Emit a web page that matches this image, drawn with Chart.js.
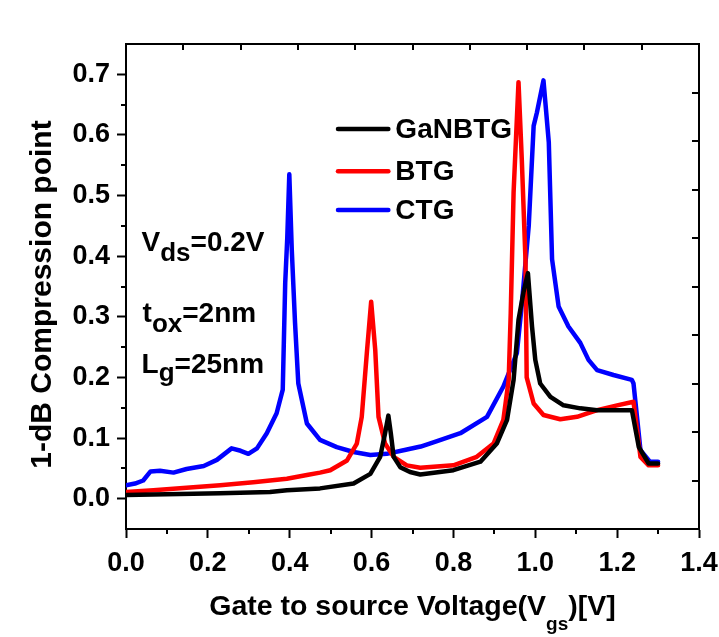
<!DOCTYPE html>
<html><head><meta charset="utf-8">
<script src="https://cdn.jsdelivr.net/npm/chart.js@4.4.1/dist/chart.umd.min.js"></script>
<style>html,body{margin:0;padding:0;background:#fff}#wrap{width:719px;height:637px;position:relative}</style>
</head><body><div id="wrap"><canvas id="c" width="719" height="637"></canvas></div>
<script>
const seriesNames = ['GaNBTG', 'BTG', 'CTG'];
const seriesColors = ['#000000', '#ff0000', '#0000ff'];

const ganX = [0.000, 0.230, 0.352, 0.393, 0.474, 0.556, 0.597, 0.621, 0.633, 0.641, 0.647, 0.654, 0.670, 0.694, 0.719, 0.800, 0.866, 0.906, 0.931, 0.947, 0.959, 0.971, 0.982, 0.992, 1.000, 1.012, 1.037, 1.069, 1.110, 1.151, 1.236, 1.253, 1.277, 1.300];
const ganY = [0.006, 0.009, 0.011, 0.014, 0.017, 0.025, 0.041, 0.069, 0.108, 0.137, 0.108, 0.069, 0.052, 0.044, 0.040, 0.047, 0.061, 0.091, 0.130, 0.196, 0.295, 0.340, 0.372, 0.284, 0.229, 0.190, 0.168, 0.154, 0.149, 0.146, 0.146, 0.085, 0.058, 0.058];

const btgX = [0.000, 0.067, 0.148, 0.230, 0.311, 0.393, 0.442, 0.474, 0.499, 0.540, 0.564, 0.576, 0.589, 0.599, 0.609, 0.617, 0.633, 0.654, 0.686, 0.719, 0.800, 0.857, 0.898, 0.922, 0.935, 0.940, 0.947, 0.959, 0.967, 0.976, 0.979, 0.996, 1.020, 1.061, 1.102, 1.151, 1.200, 1.240, 1.257, 1.277, 1.300];
const btgY = [0.011, 0.014, 0.018, 0.022, 0.027, 0.033, 0.039, 0.043, 0.047, 0.063, 0.091, 0.135, 0.245, 0.325, 0.245, 0.135, 0.091, 0.069, 0.055, 0.051, 0.055, 0.069, 0.091, 0.130, 0.196, 0.306, 0.505, 0.687, 0.560, 0.395, 0.200, 0.157, 0.138, 0.131, 0.135, 0.146, 0.154, 0.160, 0.069, 0.055, 0.055];

const ctgX = [0.000, 0.022, 0.042, 0.060, 0.083, 0.116, 0.148, 0.190, 0.222, 0.258, 0.280, 0.299, 0.320, 0.344, 0.368, 0.383, 0.389, 0.394, 0.399, 0.405, 0.413, 0.421, 0.442, 0.474, 0.515, 0.556, 0.597, 0.637, 0.678, 0.720, 0.760, 0.817, 0.882, 0.922, 0.955, 0.967, 0.984, 0.996, 1.004, 1.020, 1.033, 1.041, 1.057, 1.081, 1.110, 1.130, 1.151, 1.191, 1.236, 1.240, 1.257, 1.280, 1.300];
const ctgY = [0.022, 0.025, 0.030, 0.045, 0.046, 0.043, 0.049, 0.054, 0.064, 0.083, 0.079, 0.074, 0.083, 0.108, 0.141, 0.180, 0.356, 0.430, 0.535, 0.411, 0.290, 0.190, 0.124, 0.097, 0.085, 0.077, 0.072, 0.074, 0.080, 0.086, 0.095, 0.108, 0.135, 0.185, 0.240, 0.320, 0.450, 0.615, 0.637, 0.690, 0.588, 0.395, 0.317, 0.284, 0.257, 0.229, 0.212, 0.204, 0.196, 0.190, 0.080, 0.061, 0.061];

const xTicks = [0.0, 0.2, 0.4, 0.6, 0.8, 1.0, 1.2, 1.4];
const yTicks = [0.0, 0.1, 0.2, 0.3, 0.4, 0.5, 0.6, 0.7];
const xMinor = [0.1, 0.3, 0.5, 0.7, 0.9, 1.1, 1.3];
const yMinor = [0.05, 0.15, 0.25, 0.35, 0.45, 0.55, 0.65];

const yTitle = '1-dB Compression point';
const FONT = '"Liberation Sans", Arial, sans-serif';

function pts(xs, ys) { return xs.map((v, i) => ({x: v, y: ys[i]})); }

const allX = [ganX, btgX, ctgX];
const allY = [ganY, btgY, ctgY];

function drawSub(ctx, parts, x, y) {
  let cx = x;
  parts.forEach(p => {
    ctx.font = 'bold ' + p[1] + 'px ' + FONT;
    ctx.fillText(p[0], cx, y + p[2]);
    cx += ctx.measureText(p[0]).width;
  });
  return cx - x;
}
function measureSub(ctx, parts) {
  let w = 0;
  parts.forEach(p => { ctx.font = 'bold ' + p[1] + 'px ' + FONT; w += ctx.measureText(p[0]).width; });
  return w;
}
function zeroPad(s) { s.paddingLeft = 0; s.paddingRight = 0; s.paddingTop = 0; s.paddingBottom = 0; }

const framePlugin = {
  id: 'frame',
  afterDraw(chart) {
    const {ctx, chartArea: a, scales: {x, y}} = chart;
    ctx.save();
    ctx.strokeStyle = '#000';
    ctx.lineWidth = 2;
    ctx.beginPath();
    ctx.moveTo(a.left, a.top); ctx.lineTo(a.right, a.top); ctx.lineTo(a.right, a.bottom);
    ctx.stroke();
    ctx.beginPath();
    xMinor.forEach(v => { const p = Math.round(x.getPixelForValue(v)); ctx.moveTo(p, a.bottom); ctx.lineTo(p, a.bottom + 5); });
    yMinor.forEach(v => { const p = Math.round(y.getPixelForValue(v)); ctx.moveTo(a.left, p); ctx.lineTo(a.left - 5, p); });
    for (let k = 1; k < 10; k++) {
      const px = Math.round(a.left + (a.right - a.left) * k / 10);
      ctx.moveTo(px, a.top); ctx.lineTo(px, a.top + 6);
      const py = Math.round(a.bottom - (a.bottom - a.top) * k / 10);
      ctx.moveTo(a.right, py); ctx.lineTo(a.right - 7, py);
    }
    ctx.stroke();

    // legend
    const lx0 = x.getPixelForValue(0.518), lx1 = x.getPixelForValue(0.641);
    const legY = [0.610, 0.540, 0.476];
    ctx.lineWidth = 4.5; ctx.lineCap = 'round';
    ctx.fillStyle = '#000'; ctx.textBaseline = 'alphabetic'; ctx.textAlign = 'left';
    seriesNames.forEach((n, i) => {
      const py = y.getPixelForValue(legY[i]);
      ctx.strokeStyle = seriesColors[i];
      ctx.beginPath(); ctx.moveTo(lx0, py); ctx.lineTo(lx1, py); ctx.stroke();
      ctx.font = 'bold 28px ' + FONT;
      ctx.fillText(n, lx1 + 7, py + 9);
    });

    // annotations
    const ax = x.getPixelForValue(0.038);
    drawSub(ctx, [['V', 28, 0], ['ds', 26, 10], ['=0.2V', 28, 0]], ax, y.getPixelForValue(0.408));
    drawSub(ctx, [['t', 28, 0], ['ox', 26, 10], ['=2nm', 28, 0]], ax + 1, y.getPixelForValue(0.292));
    drawSub(ctx, [['L', 28, 0], ['g', 26, 8], ['=25nm', 28, 0]], ax, y.getPixelForValue(0.207));

    // x title
    const tparts = [['Gate to source Voltage(V', 28.5, 0], ['gs', 19, 15], [')[V]', 28.5, 0]];
    const w = measureSub(ctx, tparts);
    drawSub(ctx, tparts, (a.left + a.right) / 2 - w / 2, 615);

    // y title
    ctx.save();
    ctx.translate(43, (a.top + a.bottom) / 2 + 8);
    ctx.rotate(-Math.PI / 2);
    ctx.font = 'bold 30px ' + FONT;
    ctx.textAlign = 'center'; ctx.textBaseline = 'middle';
    ctx.fillText(yTitle, 0, 0);
    ctx.restore();
    ctx.restore();
  }
};

new Chart(document.getElementById('c'), {
  type: 'scatter',
  data: {
    datasets: seriesNames.map((n, i) => ({
      label: n,
      data: pts(allX[i], allY[i]),
      showLine: true,
      borderColor: seriesColors[i],
      backgroundColor: seriesColors[i],
      borderWidth: 4.5,
      pointRadius: 0,
      tension: 0,
      borderJoinStyle: 'round',
      borderCapStyle: 'round'
    }))
  },
  options: {
    responsive: false,
    animation: false,
    devicePixelRatio: 1,
    layout: {padding: {left: 0, top: 44, right: 20, bottom: 0}},
    plugins: {legend: {display: false}, tooltip: {enabled: false}},
    scales: {
      x: {
        type: 'linear', min: 0, max: 1.4,
        afterBuildTicks: s => { s.ticks = xTicks.map(v => ({value: v})); },
        afterFit: s => { s.height = 108; zeroPad(s); },
        grid: {drawOnChartArea: false, drawTicks: true, tickLength: 9, tickWidth: 2, tickColor: '#000'},
        border: {display: true, color: '#000', width: 2},
        ticks: {color: '#000', font: {family: FONT, size: 27, weight: 'bold'}, padding: 9, maxRotation: 0, callback: v => v.toFixed(1)}
      },
      y: {
        type: 'linear', min: -0.05, max: 0.75,
        afterBuildTicks: s => { s.ticks = yTicks.map(v => ({value: v})); },
        afterFit: s => { s.width = 126; zeroPad(s); },
        grid: {drawOnChartArea: false, drawTicks: true, tickLength: 9, tickWidth: 2, tickColor: '#000'},
        border: {display: true, color: '#000', width: 2},
        ticks: {color: '#000', font: {family: FONT, size: 27, weight: 'bold'}, padding: 7, callback: v => v.toFixed(1)}
      }
    }
  },
  plugins: [framePlugin]
});
</script>
</body></html>
